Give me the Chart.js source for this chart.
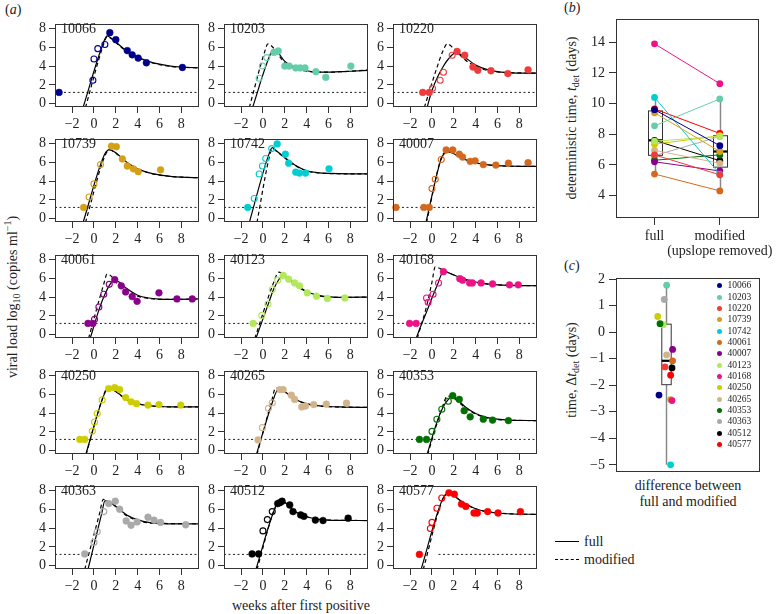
<!DOCTYPE html>
<html>
<head>
<meta charset="utf-8">
<title>viral load fits</title>
<script src="https://cdn.jsdelivr.net/npm/chart.js@4.4.1/dist/chart.umd.min.js"></script>
<style>
  body { margin: 0; background: #fff; }
  #page { position: relative; width: 778px; height: 614px; overflow: hidden;
          font-family: "Liberation Serif", "DejaVu Serif", serif; color: #222; }
  #page canvas { position: absolute; }
  .txt { position: absolute; white-space: nowrap; font-size: 14px; line-height: 14px; }
  .mid { transform: translate(-50%, -50%); }
  .rot { transform: translate(-50%, -50%) rotate(-90deg); }
  .txt sub { font-size: 10px; vertical-align: -3px; line-height: 0; }
  .txt sup { font-size: 10px; vertical-align: 6px; line-height: 0; }
  .key { position: absolute; font-size: 9.5px; line-height: 10px; white-space: nowrap; }
  .dot { position: absolute; width: 5px; height: 5px; border-radius: 50%; }
</style>
</head>
<body>
<div id="page">
  <div class="txt" style="left:5px;top:3px">(<i>a</i>)</div>
  <div class="txt" style="left:564px;top:1px">(<i>b</i>)</div>
  <div class="txt" style="left:564px;top:259px">(<i>c</i>)</div>
  <div class="txt rot" style="left:13px;top:297px">viral load log<sub>10</sub> (copies ml<sup>−1</sup>)</div>
  <div class="txt mid" style="left:301px;top:606px">weeks after first positive</div>
  <div class="txt rot" style="left:572px;top:118px">deterministic time, <i>t</i><sub>det</sub> (days)</div>
  <div class="txt rot" style="left:572px;top:370px">time, Δ<i>t</i><sub>det</sub> (days)</div>
  <div class="txt mid" style="left:688px;top:486px">difference between</div>
  <div class="txt mid" style="left:688px;top:502px">full and modified</div>
  <div style="position:absolute;left:555px;top:541px;width:24px;border-top:1.3px solid #000"></div>
  <div style="position:absolute;left:555px;top:559px;width:24px;border-top:1.3px dashed #000"></div>
  <div class="txt" style="left:584px;top:535px">full</div>
  <div class="txt" style="left:584px;top:553px">modified</div>
</div>
<script>
// ---- panel (a): viral load per patient ----
const weekTicks = [-2, 0, 2, 4, 6, 8];
const loadTicks = [0, 2, 4, 6, 8];
const weekRange = [-3.57, 9.61];
const loadRange = [-0.35, 8.46];
const detectionLimit = 1.2;

const panelIds = ['10066', '10203', '10220', '10739', '10742', '40007', '40061', '40123',
  '40168', '40250', '40265', '40353', '40363', '40512', '40577'];
const panelColors = ['#00008B', '#66CDAA', '#EE3B3B', '#D4A017', '#00CED1', '#D2691E', '#8B008B',
  '#B2E85C', '#EE1289', '#CDCD00', '#D2B48C', '#007000', '#A9A9A9', '#000000', '#FF0000'];
// where the dotted detection line starts (null = left edge)
const limitStart = [null, null, null, null, null, null, null, null, null, null, null, null, null, null, 0.6];

// open circles: upslope samples
const upslope = [
  [[-0.1, 2.5], [0.0, 4.75], [0.35, 5.85], [1.0, 6.3]],
  [[-0.35, 2.7], [-0.05, 4.0], [0.35, 4.9]],
  [[0.05, 1.65], [0.75, 2.5], [1.05, 3.35], [1.85, 5.15]],
  [[-0.45, 2.3], [0.0, 3.7], [0.6, 5.75]],
  [[-0.8, 2.15], [-0.35, 4.75], [-0.05, 5.6], [0.25, 6.4], [0.8, 7.45]],
  [[0.0, 3.2], [0.3, 4.2], [0.85, 6.3]],
  [[0.05, 1.65], [0.45, 2.95], [0.9, 4.3], [1.4, 5.35]],
  [[-0.1, 2.05], [0.45, 3.25], [0.85, 4.8], [1.35, 5.8]],
  [[-0.5, 3.9], [-0.35, 3.45], [0.1, 4.3], [0.6, 5.5]],
  [[-0.15, 2.1], [0.05, 3.05], [0.3, 3.95], [0.75, 5.4]],
  [[-0.05, 2.45], [0.5, 4.5], [0.85, 5.1]],
  [[0.0, 2.05], [0.45, 3.35], [0.9, 4.4], [1.5, 5.25]],
  [[0.0, 2.5], [0.3, 3.6], [0.9, 5.75]],
  [[0.0, 3.7], [0.4, 4.9], [0.85, 5.75]],
  [[-0.15, 3.95], [0.0, 4.6], [0.45, 6.1], [0.9, 7.2]]
];

// filled circles: all other samples
const later = [
  [[-3.2, 1.2], [1.45, 7.55], [2.0, 6.8], [3.05, 5.65], [3.5, 5.2], [4.05, 4.85], [4.8, 4.35], [8.1, 3.85]],
  [[1.0, 5.45], [1.4, 5.6], [2.0, 4.0], [2.4, 4.0], [3.0, 3.8], [3.4, 3.8], [3.85, 3.8], [4.85, 3.4], [5.75, 2.8], [8.05, 4.0]],
  [[-0.85, 1.2], [-0.25, 1.2], [2.3, 5.55], [3.0, 5.15], [3.75, 3.9], [4.2, 3.55], [5.4, 3.5], [6.95, 3.2], [8.8, 3.6]],
  [[-0.95, 1.2], [1.6, 7.7], [2.05, 7.65], [2.6, 6.35], [3.05, 5.6], [3.6, 5.3], [4.05, 5.0], [6.1, 5.2]],
  [[-1.4, 1.2], [1.3, 7.95], [2.05, 6.85], [2.35, 5.9], [3.0, 4.95], [3.35, 4.85], [3.9, 4.85], [6.05, 5.3]],
  [[-3.3, 1.2], [-0.75, 1.2], [-0.25, 1.2], [1.3, 7.3], [1.9, 7.3], [2.5, 6.85], [2.8, 6.55], [3.5, 6.1], [3.95, 6.15], [4.7, 5.75], [5.85, 5.7], [7.0, 5.9], [8.8, 5.95]],
  [[-0.55, 1.2], [-0.1, 1.2], [1.9, 5.85], [2.5, 5.2], [2.9, 4.55], [3.5, 4.05], [3.95, 3.55], [5.95, 4.45], [7.6, 3.8], [9.0, 3.8]],
  [[-0.9, 1.2], [1.85, 6.3], [2.35, 5.9], [2.9, 5.5], [3.35, 5.2], [4.05, 4.45], [4.9, 4.1], [5.9, 3.85], [7.5, 3.9]],
  [[-2.05, 1.2], [-1.45, 1.2], [1.05, 6.7], [2.55, 5.95], [2.8, 5.8], [3.45, 5.5], [3.7, 5.5], [4.5, 5.5], [5.55, 5.4], [7.1, 5.3], [7.9, 5.3]],
  [[-1.3, 1.2], [-0.85, 1.2], [1.35, 6.6], [1.9, 6.7], [2.35, 6.5], [2.9, 5.65], [3.4, 5.2], [3.9, 5.0], [4.95, 4.85], [5.95, 4.9], [7.95, 4.85]],
  [[-0.45, 1.15], [1.55, 6.5], [1.85, 6.5], [2.6, 5.9], [2.9, 5.45], [3.55, 4.65], [3.9, 4.75], [4.65, 4.9], [5.8, 4.95], [7.65, 5.05]],
  [[-1.15, 1.2], [-0.5, 1.2], [1.9, 5.85], [2.5, 5.45], [2.95, 4.25], [3.5, 3.6], [4.7, 3.35], [5.55, 3.25], [7.0, 3.2]],
  [[-0.85, 1.25], [1.35, 6.6], [1.95, 6.85], [2.35, 6.0], [2.95, 4.75], [3.4, 4.3], [3.95, 4.65], [4.95, 5.15], [5.5, 4.85], [6.1, 4.6], [8.4, 4.35]],
  [[-1.0, 1.25], [-0.4, 1.25], [1.35, 6.6], [1.55, 6.7], [1.75, 6.85], [2.45, 6.45], [2.75, 5.75], [3.45, 5.4], [3.75, 5.25], [4.8, 4.85], [5.5, 4.8], [7.8, 5.05]],
  [[-1.15, 1.2], [1.55, 7.75], [2.05, 7.6], [2.7, 6.55], [3.1, 6.3], [3.85, 5.6], [4.15, 5.6], [5.1, 5.75], [6.05, 5.6], [8.1, 5.75]]
];

// solid curve: full model fit
const fullFit = [
  [[-1.0, -0.4], [0.75, 6.1], [1.2, 7.2], [1.6, 6.95], [2, 6.55], [3, 5.6], [4, 4.95], [5, 4.5], [6, 4.2], [7, 4.0], [8, 3.9], [9.7, 3.82]],
  [[-0.95, -0.4], [0.55, 4.9], [0.95, 5.75], [1.3, 5.55], [2, 4.5], [3, 3.85], [4, 3.5], [5, 3.35], [6, 3.35], [7, 3.4], [8, 3.45], [9.7, 3.55]],
  [[-0.45, -0.4], [0, 1.4], [0.5, 2.8], [1.0, 3.9], [1.5, 4.75], [2.1, 5.35], [2.5, 5.3], [3, 4.95], [4, 4.1], [5, 3.65], [6, 3.4], [7, 3.3], [8, 3.25], [9.7, 3.25]],
  [[-1.0, -0.4], [1.0, 6.9], [1.45, 7.35], [2, 7.0], [3, 6.0], [4, 5.3], [5, 4.9], [6, 4.65], [7, 4.5], [8, 4.42], [9.7, 4.35]],
  [[-1.25, -0.4], [0.5, 6.7], [0.85, 7.55], [1.2, 7.25], [2, 6.5], [3, 5.65], [4, 5.1], [5, 4.9], [6, 4.82], [8, 4.77], [9.7, 4.77]],
  [[-0.55, -0.4], [0.8, 6.2], [1.15, 6.95], [1.6, 7.1], [2, 6.9], [3, 6.3], [4, 5.95], [5, 5.75], [6, 5.65], [7, 5.6], [8, 5.57], [9.7, 5.55]],
  [[-0.35, -0.4], [0.5, 2.8], [1.0, 4.3], [1.5, 5.4], [1.85, 5.8], [2.3, 5.6], [3, 4.9], [4, 4.2], [5, 3.9], [6, 3.78], [7, 3.75], [9.7, 3.8]],
  [[-0.65, -0.4], [0.5, 3.3], [1.0, 4.9], [1.5, 5.95], [1.8, 6.35], [2.2, 6.15], [3, 5.35], [4, 4.6], [5, 4.2], [6, 4.02], [7, 3.97], [9.7, 4.0]],
  [[-1.45, -0.4], [-1.0, 1.0], [-0.5, 2.4], [0, 3.9], [0.5, 5.3], [1.05, 6.7], [1.6, 6.55], [2, 6.35], [3, 5.9], [4, 5.6], [5, 5.4], [6, 5.3], [7, 5.25], [9.7, 5.2]],
  [[-0.75, -0.4], [0.75, 5.4], [1.2, 6.5], [1.6, 6.55], [2, 6.3], [2.5, 5.85], [3, 5.45], [4, 5.0], [5, 4.8], [6, 4.7], [7, 4.66], [9.7, 4.65]],
  [[-0.6, -0.4], [0.85, 5.1], [1.35, 6.45], [1.7, 6.5], [2.2, 6.1], [3, 5.45], [4, 5.0], [5, 4.8], [6, 4.7], [7, 4.65], [9.7, 4.6]],
  [[-0.45, -0.4], [0.5, 3.2], [1.0, 4.6], [1.5, 5.45], [1.8, 5.75], [2.2, 5.55], [3, 4.7], [4, 3.95], [5, 3.55], [6, 3.35], [7, 3.25], [9.7, 3.2]],
  [[-0.55, -0.4], [0.7, 5.5], [1.0, 6.9], [1.4, 6.8], [2, 6.3], [3, 5.4], [4, 4.9], [5, 4.6], [6, 4.5], [7, 4.45], [9.7, 4.45]],
  [[-0.65, -0.4], [1.1, 6.1], [1.6, 6.95], [2.0, 6.75], [2.5, 6.2], [3, 5.7], [4, 5.2], [5, 4.95], [6, 4.85], [7, 4.82], [9.7, 4.8]],
  [[-1.0, -0.4], [0.95, 7.0], [1.45, 7.65], [1.9, 7.5], [2.5, 7.0], [3, 6.6], [4, 6.05], [5, 5.75], [6, 5.6], [7, 5.52], [9.7, 5.45]]
];

// dashed curve: modified fit (upslope removed)
const modifiedFit = [
  [[-0.78, -0.4], [0.85, 6.2], [1.2, 7.1], [1.6, 6.9], [2, 6.5], [3, 5.55], [4, 4.9], [5, 4.45], [6, 4.15], [7, 3.97], [8, 3.88], [9.7, 3.8]],
  [[-1.25, -0.4], [0.15, 5.5], [0.45, 6.35], [0.9, 6.0], [1.5, 5.05], [2, 4.35], [3, 3.75], [4, 3.45], [5, 3.35], [6, 3.35], [8, 3.45], [9.7, 3.6]],
  [[-0.7, -0.4], [0.5, 4.0], [1.0, 5.6], [1.4, 6.35], [2, 5.85], [3, 4.7], [4, 3.95], [5, 3.55], [6, 3.37], [7, 3.3], [9.7, 3.25]],
  [[-0.78, -0.4], [1.05, 6.8], [1.45, 7.3], [2, 6.95], [3, 5.95], [4, 5.28], [5, 4.88], [6, 4.63], [7, 4.5], [8, 4.42], [9.7, 4.35]],
  [[-0.55, -0.4], [0.55, 6.4], [0.85, 7.45], [1.2, 7.2], [2, 6.45], [3, 5.6], [4, 5.08], [5, 4.88], [6, 4.8], [8, 4.77], [9.7, 4.77]],
  [[-0.5, -0.4], [0.8, 6.3], [1.15, 7.0], [1.6, 7.1], [2, 6.9], [3, 6.3], [4, 5.93], [5, 5.73], [6, 5.63], [7, 5.58], [9.7, 5.55]],
  [[-0.5, -0.4], [0.9, 5.4], [1.2, 6.45], [1.6, 6.2], [2, 5.6], [3, 4.7], [4, 4.1], [5, 3.85], [6, 3.76], [7, 3.75], [9.7, 3.8]],
  [[-0.75, -0.4], [0.9, 5.3], [1.45, 6.65], [1.8, 6.45], [2.2, 6.05], [3, 5.25], [4, 4.55], [5, 4.15], [6, 4.0], [7, 3.96], [9.7, 4.0]],
  [[-1.35, -0.4], [-0.5, 3.0], [0, 5.6], [0.3, 7.2], [0.8, 7.0], [1.5, 6.6], [2, 6.35], [3, 5.85], [4, 5.57], [5, 5.4], [6, 5.3], [9.7, 5.2]],
  [[-0.72, -0.4], [0.75, 5.45], [1.2, 6.55], [1.6, 6.55], [2, 6.3], [2.5, 5.85], [3, 5.45], [4, 5.0], [5, 4.8], [6, 4.7], [7, 4.66], [9.7, 4.65]],
  [[-0.55, -0.4], [0.8, 5.3], [1.15, 6.65], [1.6, 6.6], [2.2, 6.1], [3, 5.4], [4, 4.98], [5, 4.78], [6, 4.68], [9.7, 4.6]],
  [[-0.4, -0.4], [1.0, 4.8], [1.4, 5.8], [1.8, 5.7], [2.2, 5.4], [3, 4.6], [4, 3.9], [5, 3.5], [6, 3.32], [7, 3.24], [9.7, 3.2]],
  [[-0.85, -0.4], [0.5, 5.5], [0.85, 7.05], [1.3, 6.8], [2, 6.3], [3, 5.3], [4, 4.8], [5, 4.55], [6, 4.5], [9.7, 4.45]],
  [[-0.55, -0.4], [1.1, 6.15], [1.6, 6.95], [2, 6.75], [2.5, 6.2], [3, 5.7], [4, 5.2], [5, 4.95], [6, 4.85], [9.7, 4.8]],
  [[-0.8, -0.4], [1.0, 7.1], [1.45, 7.65], [1.9, 7.5], [2.5, 7.0], [3, 6.6], [4, 6.05], [5, 5.75], [6, 5.6], [7, 5.52], [9.7, 5.45]]
];

// ---- panels (b) and (c): deterministic time ----
const patientIds = ['10066', '10203', '10220', '10739', '10742', '40061', '40007', '40123',
  '40168', '40250', '40265', '40353', '40363', '40512', '40577'];
const patientColors = ['#00008B', '#66CDAA', '#EE3B3B', '#D4A017', '#00CED1', '#D2691E', '#8B008B',
  '#B2E85C', '#EE1289', '#CDCD00', '#D2B48C', '#007000', '#A9A9A9', '#000000', '#FF0000'];
const tdetFull = [9.6, 8.55, 6.65, 9.4, 10.4, 5.4, 6.2, 7.55, 13.9, 7.35, 6.95, 6.3, 6.6, 7.6, 9.65];
const tdetModified = [7.25, 10.3, 5.35, 6.87, 5.4, 4.3, 5.6, 7.85, 11.3, 7.9, 6.1, 6.65, 7.85, 6.27, 8.05];
const tdetDiff = [-2.37, 1.77, -1.31, -2.54, -5.0, -1.08, -0.65, 0.28, -2.58, 0.59, -0.86, 0.32, 1.23, -1.35, -1.62];
const diffJitter = [-0.067, 0.01, -0.007, 0.05, 0.05, 0.07, 0.07, -0.024, 0.064, -0.08, 0.01, -0.057, -0.014, 0.064, 0.05];
const methodPos = [1, 2];
const methodLabels = ['full', ['modified', '(upslope removed)']];
const tdetTicks = [4, 6, 8, 10, 12, 14];
const diffTicks = [-5, -4, -3, -2, -1, 0, 1, 2];
// whisker low, lower hinge, median, upper hinge, whisker high
const fullBox = [5.4, 6.62, 7.6, 9.52, 10.4];
const modifiedBox = [4.3, 5.85, 6.87, 7.9, 10.3];
const diffBox = [-5.0, -1.98, -1.08, 0.3, 1.77];

const FONT = '"Liberation Serif", "DejaVu Serif", serif';
const page = document.getElementById('page');
const colLeft = [55, 224, 393], rowTop = [23, 138, 254, 370, 485];
const boxW = 145, boxH = 84;

function addCanvas(left, top, w, h) {
  const c = document.createElement('canvas');
  c.width = w; c.height = h;
  c.style.left = left + 'px'; c.style.top = top + 'px';
  c.style.width = w + 'px'; c.style.height = h + 'px';
  page.appendChild(c);
  return c;
}

const toXY = pts => pts.map(([x, y]) => ({ x, y }));

const frame = {
  id: 'frame',
  afterDraw(chart) {
    const a = chart.chartArea, ctx = chart.ctx;
    ctx.save();
    ctx.strokeStyle = '#333';
    ctx.lineWidth = 1;
    ctx.strokeRect(Math.round(a.left) + 0.5, Math.round(a.top) + 0.5,
      Math.round(a.right - a.left) - 1, Math.round(a.bottom - a.top) - 1);
    ctx.restore();
  }
};

function boxPlot(items, halfWidth) {
  return {
    id: 'boxPlot',
    beforeDatasetsDraw(chart) {
      const { ctx, scales: { x, y } } = chart;
      ctx.save();
      items.forEach(([at, stats]) => {
        const cx = Math.round(x.getPixelForValue(at)) + 0.5;
        const [lo, q1, med, q3, hi] = stats.map(v => y.getPixelForValue(v));
        ctx.strokeStyle = '#8a8a8a';
        ctx.lineWidth = 1.5;
        ctx.beginPath();
        ctx.moveTo(cx, q3); ctx.lineTo(cx, hi);
        ctx.moveTo(cx, q1); ctx.lineTo(cx, lo);
        ctx.stroke();
        ctx.strokeStyle = '#333';
        ctx.lineWidth = 1;
        ctx.strokeRect(cx - halfWidth, q3, 2 * halfWidth, q1 - q3);
        ctx.strokeStyle = '#000';
        ctx.lineWidth = 2.2;
        ctx.beginPath();
        ctx.moveTo(cx - halfWidth, med); ctx.lineTo(cx + halfWidth, med);
        ctx.stroke();
      });
      ctx.restore();
    }
  };
}

function axis(ticks, range, size, vertical, labelFn, tickLength = 6, pad = 3) {
  return {
    type: 'linear', min: range[0], max: range[1],
    border: { display: false },
    grid: { drawOnChartArea: false, tickLength, tickColor: '#333', lineWidth: 1 },
    ticks: {
      font: { family: FONT, size: 14, lineHeight: 1.12 }, color: '#222', padding: pad,
      maxRotation: 0, autoSkip: false,
      callback: labelFn || (v => String(v).replace('-', '\u2212'))
    },
    afterBuildTicks: s => { s.ticks = ticks.map(value => ({ value })); },
    afterFit: s => {
      if (vertical) { s.width = size; s.paddingTop = 0; s.paddingBottom = 0; }
      else { s.height = size; s.paddingLeft = 0; s.paddingRight = 0; }
    }
  };
}

function baseOptions(scales, padding) {
  return {
    responsive: false, animation: false, devicePixelRatio: 1, events: [],
    layout: { padding },
    plugins: { legend: { display: false }, tooltip: { enabled: false } },
    scales
  };
}

function curve(pts, dash) {
  return {
    data: toXY(pts), showLine: true, pointRadius: 0, borderColor: '#000', borderWidth: 1.2,
    borderDash: dash, cubicInterpolationMode: 'monotone'
  };
}

function drawPanel(i) {
  const L = colLeft[i % 3], T = rowTop[Math.floor(i / 3)];
  const color = panelColors[i];
  const canvas = addCanvas(L - 40, T - 4, boxW + 44, boxH + 34);
  new Chart(canvas, {
    type: 'scatter',
    data: {
      datasets: [
        { data: toXY(later[i]), pointRadius: 3.4, pointBackgroundColor: color,
          pointBorderColor: color, pointBorderWidth: 0.5, clip: 6 },
        { data: toXY(upslope[i]), pointRadius: 3, pointBackgroundColor: 'rgba(255,255,255,0)',
          pointBorderColor: color, pointBorderWidth: 1.1, clip: 6 },
        curve(fullFit[i], []),
        curve(modifiedFit[i], [4, 3]),
        { data: [{ x: limitStart[i] ?? weekRange[0], y: detectionLimit }, { x: weekRange[1], y: detectionLimit }],
          showLine: true, pointRadius: 0, borderColor: '#222', borderWidth: 1, borderDash: [2, 2.5] }
      ]
    },
    options: baseOptions({
      x: axis(weekTicks, weekRange, 30, false),
      y: axis(loadTicks, loadRange, 40, true)
    }, { top: 4, right: 4, left: 0, bottom: 0 }),
    plugins: [frame]
  });
  const label = document.createElement('div');
  label.className = 'txt';
  label.textContent = panelIds[i];
  label.style.left = (L + 6) + 'px';
  label.style.top = (T - 1) + 'px';
  page.appendChild(label);
}

panelIds.forEach((id, i) => drawPanel(i));

// (b)
new Chart(addCanvas(566, 14, 212, 249), {
  type: 'scatter',
  data: {
    datasets: patientIds.map((id, k) => ({
      data: [{ x: methodPos[0], y: tdetFull[k] }, { x: methodPos[1], y: tdetModified[k] }],
      showLine: true, borderColor: patientColors[k], borderWidth: 1,
      pointRadius: 3.4, pointBackgroundColor: patientColors[k], pointBorderWidth: 0, clip: 6
    }))
  },
  options: baseOptions({
    x: axis(methodPos, [0.41, 2.6], 45, false, (v, i) => methodLabels[i], 7, 3),
    y: axis(tdetTicks, [2.53, 15.52], 50, true, null, 7, 4)
  }, { top: 5, right: 19, left: 0, bottom: 0 }),
  plugins: [boxPlot([[methodPos[0], fullBox], [methodPos[1], modifiedBox]], 7), frame]
});

// (c)
new Chart(addCanvas(566, 273, 199, 209), {
  type: 'scatter',
  data: {
    datasets: [{
      data: tdetDiff.map((d, k) => ({ x: 1 + diffJitter[k], y: d })),
      pointRadius: 3.4, pointBackgroundColor: patientColors, pointBorderWidth: 0, clip: 6
    }]
  },
  options: baseOptions({
    x: { type: 'linear', display: false, min: 0.5, max: 1.95 },
    y: axis(diffTicks, [-5.27, 2.04], 50, true, null, 7, 4)
  }, { top: 5, right: 5, left: 0, bottom: 10 }),
  plugins: [boxPlot([[1, diffBox]], 4.7), frame]
});

// legend of (c)
patientIds.forEach((id, k) => {
  const y = 285.7 + k * 11.35;
  const dot = document.createElement('div');
  dot.className = 'dot';
  dot.style.left = '716.5px';
  dot.style.top = (y - 2.5) + 'px';
  dot.style.background = patientColors[k];
  page.appendChild(dot);
  const t = document.createElement('div');
  t.className = 'key';
  t.textContent = id;
  t.style.left = '727.5px';
  t.style.top = (y - 5.5) + 'px';
  page.appendChild(t);
});
</script>
</body>
</html>
